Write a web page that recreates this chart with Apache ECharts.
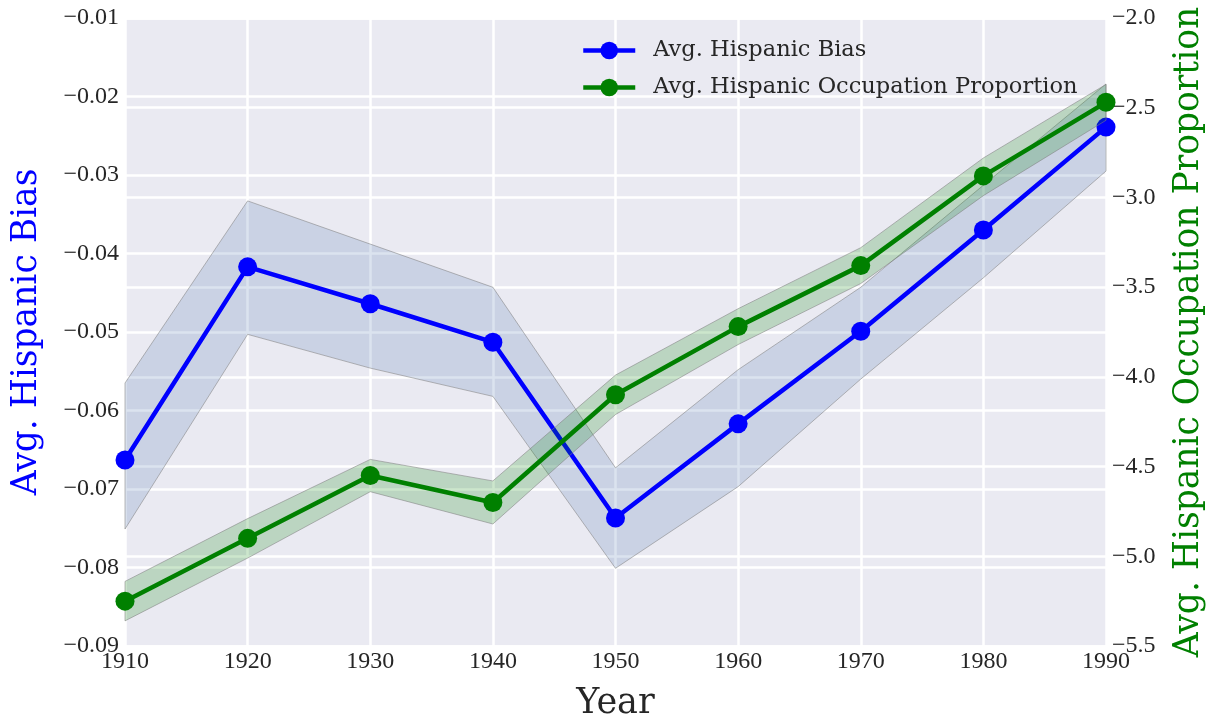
<!DOCTYPE html>
<html>
<head>
<meta charset="utf-8">
<script src="https://cdn.jsdelivr.net/npm/echarts@6/dist/echarts.min.js"></script>
<style>html,body{margin:0;padding:0;background:#fff;}#c{width:1212px;height:721px;}</style>
</head>
<body>
<div id="c"></div>
<script>
const years = [1910, 1920, 1930, 1940, 1950, 1960, 1970, 1980, 1990];
const biasMean  = [-0.0663, -0.0417, -0.0464, -0.0513, -0.0737, -0.0617, -0.0499, -0.0370, -0.0239];
const biasUpper = [-0.0565, -0.0333, -0.0388, -0.0443, -0.0673, -0.0548, -0.0443, -0.0313, -0.0184];
const biasLower = [-0.0751, -0.0503, -0.0546, -0.0582, -0.0801, -0.0697, -0.0560, -0.0431, -0.0295];
const occMean  = [-5.25, -4.90, -4.55, -4.70, -4.10, -3.72, -3.38, -2.88, -2.47];
const occUpper = [-5.14, -4.79, -4.46, -4.58, -3.99, -3.62, -3.28, -2.78, -2.37];
const occLower = [-5.36, -5.01, -4.64, -4.82, -4.21, -3.82, -3.48, -2.99, -2.57];
const leftTicks = {min: -0.09, max: -0.01, step: 0.01};
const rightTicks = {min: -5.5, max: -2.0, step: 0.5};
const xTicks = {min: 1910, max: 1990, step: 10};

const FONT = 'Liberation Serif';
const FONT2 = 'DejaVu Serif';
const minus = v => String(v).replace('-', '\u2212');

function bandSeries(name, lower, upper, yIdx, fill, z) {
  return {
    name: name, type: 'custom', yAxisIndex: yIdx, z: z, silent: true,
    data: years.map((y, i) => [y, lower[i], upper[i]]),
    encode: {x: 0, y: [1, 2]},
    renderItem: function (params, api) {
      if (params.dataIndex !== 0) return null;
      const top = years.map((y, i) => api.coord([y, upper[i]]));
      const bot = years.map((y, i) => api.coord([y, lower[i]])).reverse();
      return {
        type: 'polygon',
        shape: {points: top.concat(bot)},
        style: {fill: fill, stroke: 'rgba(128,128,128,0.55)', lineWidth: 1}
      };
    }
  };
}

const chart = echarts.init(document.getElementById('c'));
chart.setOption({
  backgroundColor: '#ffffff',
  animation: false,
  grid: {left: 125, right: 106, top: 18, bottom: 75, show: true, backgroundColor: '#EAEAF2', borderWidth: 0,
         containLabel: false, outerBoundsMode: 'none'},
  legend: {
    data: ['Avg. Hispanic Bias', 'Avg. Hispanic Occupation Proportion'],
    orient: 'vertical', left: 576, top: 34, padding: 5, itemWidth: 52, itemHeight: 22, itemGap: 14,
    lineStyle: {width: 4.5},
    textStyle: {fontFamily: FONT2, fontSize: 22.5, color: '#262626', padding: [0, 0, 0, 13], lineHeight: 20}
  },
  xAxis: {
    type: 'value', min: xTicks.min, max: xTicks.max, interval: xTicks.step,
    name: 'Year', nameLocation: 'middle', nameGap: 40,
    nameTextStyle: {fontFamily: FONT2, fontSize: 35, color: '#262626'},
    axisLine: {show: false}, axisTick: {show: false},
    axisLabel: {fontFamily: FONT, fontSize: 24, color: '#262626', margin: 4, formatter: v => String(v)},
    splitLine: {lineStyle: {color: '#ffffff', width: 2.5}}
  },
  yAxis: [{
    type: 'value', min: leftTicks.min, max: leftTicks.max, interval: leftTicks.step, position: 'left',
    name: 'Avg. Hispanic Bias', nameLocation: 'middle', nameGap: 80, nameRotate: 90,
    nameTextStyle: {fontFamily: FONT2, fontSize: 34.5, color: '#0000FF'},
    axisLine: {show: false}, axisTick: {show: false},
    axisLabel: {fontFamily: FONT, fontSize: 24, color: '#262626', margin: 6, formatter: v => minus(v.toFixed(2))},
    splitLine: {lineStyle: {color: '#ffffff', width: 2.5}}
  }, {
    type: 'value', min: rightTicks.min, max: rightTicks.max, interval: rightTicks.step, position: 'right',
    name: 'Avg. Hispanic Occupation Proportion', nameLocation: 'middle', nameGap: 66, nameRotate: 90,
    nameTextStyle: {fontFamily: FONT2, fontSize: 34.5, color: '#008000'},
    axisLine: {show: false}, axisTick: {show: false},
    axisLabel: {fontFamily: FONT, fontSize: 24, color: '#262626', margin: 6, formatter: v => minus(v.toFixed(1))},
    splitLine: {lineStyle: {color: '#ffffff', width: 2.5}}
  }],
  series: [
    bandSeries('biasBand', biasLower, biasUpper, 0, 'rgba(76,114,176,0.2)', 1),
    {
      name: 'Avg. Hispanic Bias', type: 'line', yAxisIndex: 0, z: 2,
      data: years.map((y, i) => [y, biasMean[i]]),
      symbol: 'circle', symbolSize: 19, showAllSymbol: true,
      itemStyle: {color: '#0000FF'}, lineStyle: {color: '#0000FF', width: 4.5}
    },
    bandSeries('occBand', occLower, occUpper, 1, 'rgba(0,128,0,0.2)', 3),
    {
      name: 'Avg. Hispanic Occupation Proportion', type: 'line', yAxisIndex: 1, z: 4,
      data: years.map((y, i) => [y, occMean[i]]),
      symbol: 'circle', symbolSize: 19, showAllSymbol: true,
      itemStyle: {color: '#008000'}, lineStyle: {color: '#008000', width: 4.5}
    }
  ]
});
</script>
</body>
</html>
